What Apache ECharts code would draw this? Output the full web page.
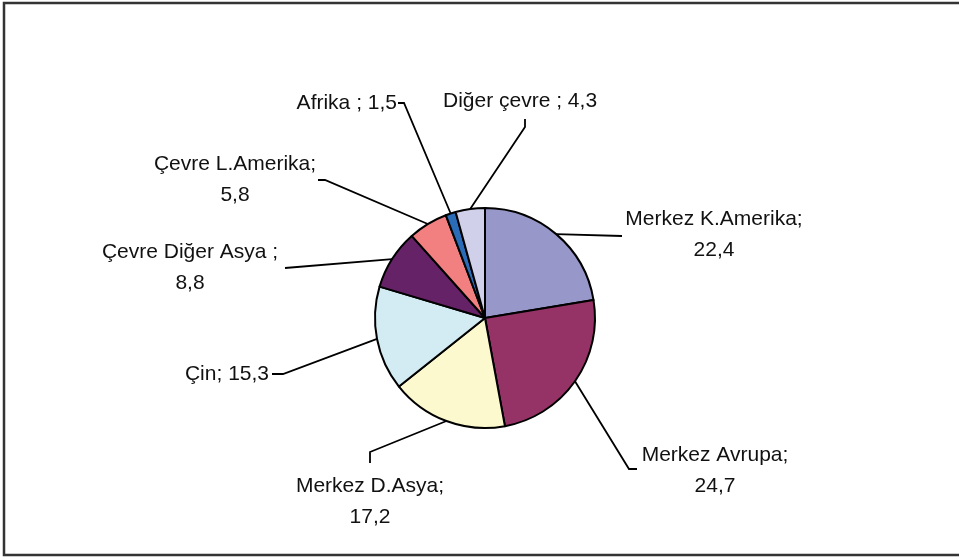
<!DOCTYPE html>
<html>
<head>
<meta charset="utf-8">
<script src="https://cdn.jsdelivr.net/npm/echarts@6/dist/echarts.min.js"></script>
<style>
    html, body { margin: 0; padding: 0; background: #fff; }
    #main { width: 959px; height: 557px; }
</style>
</head>
<body>
<div id="main"></div>
<script>
// veri
var regions = ['Merkez K.Amerika', 'Merkez Avrupa', 'Merkez D.Asya', 'Çin',
    'Çevre Diğer Asya', 'Çevre L.Amerika', 'Afrika', 'Diğer çevre']
var shares = [22.4, 24.7, 17.2, 15.3, 8.8, 5.8, 1.5, 4.3]
var separators = [';\n', ';\n', ';\n', '; ', ' ;\n', ';\n', ' ; ', ' ; ']

// renkler (Excel paleti)
var colors = ['#9797c9', '#963366', '#fbf9cd', '#d3ecf3', '#662266', '#f38080', '#2a6cb8', '#d0d0ea']

// etiket yerleşimi: konum, hizalama, çizgi kırılma noktaları
var labelPos = [
    { x: 714, y: 235, align: 'center', elbow: [622, 236], end: [622, 236] },
    { x: 715, y: 471, align: 'center', elbow: [629, 469], end: [637, 469] },
    { x: 370, y: 502, align: 'center', elbow: [370, 452], end: [370, 463] },
    { x: 269, y: 374, align: 'right', elbow: [283, 374], end: [272, 374] },
    { x: 190, y: 268, align: 'center', elbow: [285, 268], end: [285, 268] },
    { x: 235, y: 180, align: 'center', elbow: [325, 180], end: [318, 180] },
    { x: 397, y: 103, align: 'right', elbow: [404, 103], end: [398, 103] },
    { x: 443, y: 101, align: 'left', elbow: [525, 127], end: [525, 119] }
]

var cx = 485, cy = 318, radius = 110

let myChart = echarts.init(document.getElementById('main'))

function edgePoint(idx) {
    // dilimin dış kenarındaki orta nokta (yedek)
    let total = shares.reduce((a, b) => a + b, 0)
    let before = 0
    for (let i = 0; i < idx; i++) before += shares[i]
    let ang = (90 - (before + shares[idx] / 2) / total * 360) * Math.PI / 180
    return [cx + radius * Math.cos(ang), cy - radius * Math.sin(ang)]
}

myChart.setOption({
    animation: false,
    backgroundColor: '#fff',
    graphic: [{
        type: 'rect',
        shape: { x: 4, y: 3, width: 1000, height: 552 },
        style: { fill: 'none', stroke: '#333', lineWidth: 2.5 },
        silent: true
    }],
    series: [{
        type: 'pie',
        center: [cx, cy],
        radius: radius,
        startAngle: 90,
        clockwise: true,
        avoidLabelOverlap: false,
        itemStyle: {
            borderColor: '#000',
            borderWidth: 2
        },
        label: {
            show: true,
            position: 'outside',
            color: '#111',
            fontFamily: 'Liberation Sans, Arial, sans-serif',
            fontSize: 21,
            lineHeight: 31,
            formatter: function(p) {
                return p.name + separators[p.dataIndex] + p.value.toFixed(1).replace('.', ',')
            }
        },
        labelLine: {
            show: true,
            lineStyle: { color: '#000', width: 1.8 }
        },
        labelLayout: function(params) {
            let lp = labelPos[params.dataIndex]
            let start = params.labelLinePoints ? params.labelLinePoints[0] : edgePoint(params.dataIndex)
            return {
                x: lp.x,
                y: lp.y,
                align: lp.align,
                verticalAlign: 'middle',
                labelLinePoints: [start.slice(), lp.elbow.slice(), lp.end.slice()]
            }
        },
        data: regions.map((name, i) => ({
            name: name,
            value: shares[i],
            itemStyle: { color: colors[i] }
        }))
    }]
})
</script>
</body>
</html>
